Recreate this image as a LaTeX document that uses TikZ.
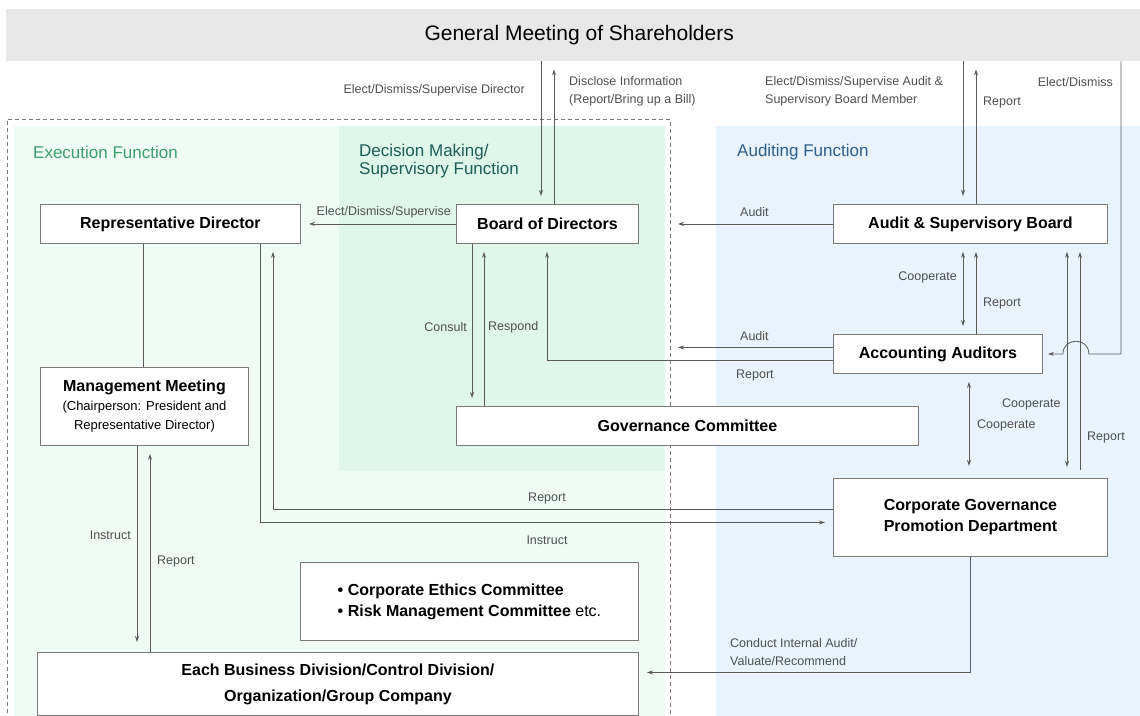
\documentclass[tikz,border=0pt]{standalone}
\usepackage{fontspec}
\setmainfont{Liberation Sans}
\usepackage{tikz}
\usetikzlibrary{arrows.meta, positioning, calc}
\definecolor{bandgray}{HTML}{E8E8E8}
\definecolor{execgreen}{HTML}{EEFCF5}
\definecolor{decgreen}{HTML}{DFF7EA}
\definecolor{auditblue}{HTML}{E8F3FE}
\definecolor{boxline}{HTML}{7A7A7A}
\definecolor{linkgray}{HTML}{5A5A5A}
\definecolor{labelgray}{HTML}{505050}
\definecolor{exectitle}{HTML}{3E9E6E}
\definecolor{dectitle}{HTML}{1E5D58}
\definecolor{audittitle}{HTML}{2F5D8C}

\tikzstyle{orgbox} = [
  rectangle, draw=boxline, line width=0.9pt, fill=white,
  anchor=north west, align=center, inner sep=0pt,
  font=\fontsize{16}{19}\selectfont\bfseries
]
\tikzstyle{heading} = [
  anchor=west, align=left, inner sep=0pt,
  font=\fontsize{17}{18}\selectfont
]
\tikzstyle{tag} = [
  inner sep=0pt, text=labelgray,
  font=\fontsize{12.5}{18}\selectfont
]
\tikzstyle{arrow} = [
  ->, line width=0.8pt, color=linkgray, shorten >=8pt
]
\tikzstyle{biarrow} = [
  <->, line width=0.8pt, color=linkgray, shorten >=8pt, shorten <=8pt
]
\tikzstyle{link} = [
  line width=0.8pt, color=linkgray
]

\begin{document}
\begin{tikzpicture}[x=1pt, y=-1pt, >={Stealth[length=6pt,width=4pt]}]

  \useasboundingbox (0,0) rectangle (1140,715);

  % function areas
  \fill[execgreen] (14,126) rectangle (665,720);
  \fill[decgreen] (339,126) rectangle (665,471);
  \fill[auditblue] (716,126) rectangle (1145,720);
  \coordinate (divide) at (670,119);
  \draw[boxline, line width=0.7pt, dash pattern=on 4pt off 3pt]
    (7,720) |- (divide) -- (670,720);

  \node[heading, text=exectitle] (exechead) at (33,152) {Execution Function};
  \node[heading, text=dectitle] (dechead) at (359,161)
    {Decision Making/\\Supervisory Function};
  \node[heading, text=audittitle] (audithead) at (737,152) {Auditing Function};

  % boxes
  \node[rectangle, fill=bandgray, anchor=north west, minimum width=1146,
        minimum height=52, font=\fontsize{21}{24}\selectfont]
    (gms) at (6,9) {General Meeting of Shareholders};

  \node[orgbox, minimum width=260, minimum height=39]
    (repdir) at (40,204) {Representative Director};
  \node[orgbox, minimum width=182, minimum height=39]
    (board) at (456,204) {Board of Directors};
  \node[orgbox, minimum width=274, minimum height=39]
    (asb) at (833,204) {Audit \& Supervisory Board};
  \node[orgbox, minimum width=208, minimum height=78,
        font=\fontsize{13}{19}\selectfont]
    (mgmt) at (40,367) {{\fontsize{16}{20}\selectfont\bfseries Management Meeting}\\
      (Chairperson: President and\\Representative Director)};
  \node[orgbox, minimum width=209, minimum height=39]
    (auditors) at (833,334) {Accounting Auditors};
  \node[orgbox, minimum width=462, minimum height=39]
    (govcom) at (456,406) {Governance Committee};
  \node[orgbox, minimum width=274, minimum height=78,
        font=\fontsize{16}{21}\selectfont\bfseries]
    (cgpd) at (833,478) {Corporate Governance\\Promotion Department};
  \node[orgbox, minimum width=338, minimum height=78, align=left,
        font=\fontsize{16}{21}\selectfont\bfseries]
    (ethics) at (300,562) {\textbullet\ Corporate Ethics Committee\\
      \textbullet\ Risk Management Committee {\mdseries etc.}};
  \node[orgbox, minimum width=601, minimum height=63,
        font=\fontsize{16}{26}\selectfont\bfseries]
    (divisions) at (37,652) {Each Business Division/Control Division/\\
      Organization/Group Company};

  % shareholders meeting
  \draw[arrow] ([xshift=85pt]board.north west |- gms.south)
    -- ([xshift=85pt]board.north west);
  \draw[arrow] ([xshift=98pt]board.north west)
    -- ([xshift=98pt]board.north west |- gms.south);
  \draw[arrow] ([xshift=130pt]asb.north west |- gms.south)
    -- ([xshift=130pt]asb.north west);
  \draw[arrow] ([xshift=143pt]asb.north west)
    -- ([xshift=143pt]asb.north west |- gms.south);
  \draw[arrow, shorten >=5pt] ([xshift=13pt]asb.north east |- gms.south)
    |- ([xshift=46pt]auditors.east)
    .. controls +(0,-17) and +(0,-17) .. ([xshift=20pt]auditors.east)
    -- (auditors.east);

  % supervision and audit
  \draw[arrow] (board.west) -- (repdir.east);
  \draw[arrow] (asb.west) -- (asb.west -| divide);
  \draw[arrow] ([yshift=6.5pt]auditors.west)
    -- ([yshift=6.5pt]auditors.west -| divide);
  \draw[arrow] ([yshift=-6.5pt]auditors.west)
    -| ([xshift=91pt]board.south west);
  \draw[arrow] ([xshift=16pt]board.south west)
    -- ([xshift=16pt]govcom.north west);
  \draw[arrow] ([xshift=28pt]govcom.north west)
    -- ([xshift=28pt]board.south west);

  % auditing side
  \draw[biarrow] ([xshift=130pt]asb.south west)
    -- ([xshift=130pt]auditors.north west);
  \draw[arrow] ([xshift=143pt]auditors.north west)
    -- ([xshift=143pt]asb.south west);
  \draw[biarrow, shorten >=12pt] ([xshift=136pt]auditors.south west)
    -- ([xshift=136pt]cgpd.north west);
  \draw[biarrow, shorten >=11pt] ([xshift=234pt]asb.south west)
    -- ([xshift=234pt]cgpd.north west);
  \draw[arrow, shorten <=8pt] ([xshift=247pt]cgpd.north west)
    -- ([xshift=247pt]asb.south west);

  % execution side
  \draw[link] ([xshift=103pt]repdir.south west)
    -- ([xshift=103pt]mgmt.north west);
  \draw[arrow, shorten >=10pt] ([xshift=97pt]mgmt.south west)
    -- ([xshift=97pt]mgmt.south west |- divisions.north);
  \draw[arrow] ([xshift=110pt]mgmt.south west |- divisions.north)
    -- ([xshift=110pt]mgmt.south west);
  \draw[arrow] ([yshift=8pt]cgpd.west)
    -| ([xshift=233pt]repdir.south west);
  \draw[arrow] ([xshift=220pt]repdir.south west)
    |- ([yshift=-5pt]cgpd.west);
  \draw[arrow] ([xshift=137pt]cgpd.south west)
    |- ([yshift=11.5pt]divisions.east);

  % labels
  \node[tag, anchor=east] (lblelect) at (525,90) {Elect/Dismiss/Supervise Director};
  \node[tag, anchor=west, align=left] (lbldisclose) at (569,91)
    {Disclose Information\\(Report/Bring up a Bill)};
  \node[tag, anchor=west, align=left] (lblelectasb) at (765,91)
    {Elect/Dismiss/Supervise Audit \&\\Supervisory Board Member};
  \node[tag, anchor=west] (lblasbreport) at (983,102) {Report};
  \node[tag, anchor=east] (lblelectaa) at (1113,82) {Elect/Dismiss};
  \node[tag, anchor=east] (lblsupervise) at (451,212) {Elect/Dismiss/Supervise};
  \node[tag, anchor=west] (lblasbaudit) at (740,212) {Audit};
  \node[tag, anchor=east] (lblconsult) at (467,327) {Consult};
  \node[tag, anchor=west] (lblrespond) at (488,327) {Respond};
  \node[tag, anchor=west] (lblaaaudit) at (740,336) {Audit};
  \node[tag, anchor=west] (lblaareport) at (736,375) {Report};
  \node[tag, anchor=east] (lblcoopaa) at (957,277) {Cooperate};
  \node[tag, anchor=west] (lblreportaa) at (983,303) {Report};
  \node[tag, anchor=west] (lblcoopasb) at (1002,404) {Cooperate};
  \node[tag, anchor=west] (lblcoopcg) at (977,425) {Cooperate};
  \node[tag, anchor=west] (lblreportcg) at (1087,437) {Report};
  \node[tag] (lblcgreport) at (547,498) {Report};
  \node[tag] (lblcginstruct) at (547,540) {Instruct};
  \node[tag, anchor=east] (lblinstruct) at (131,535) {Instruct};
  \node[tag, anchor=west] (lblmmreport) at (157,561) {Report};
  \node[tag, anchor=west, align=left] (lblinternal) at (730,652)
    {Conduct Internal Audit/\\Valuate/Recommend};

\end{tikzpicture}
\end{document}
